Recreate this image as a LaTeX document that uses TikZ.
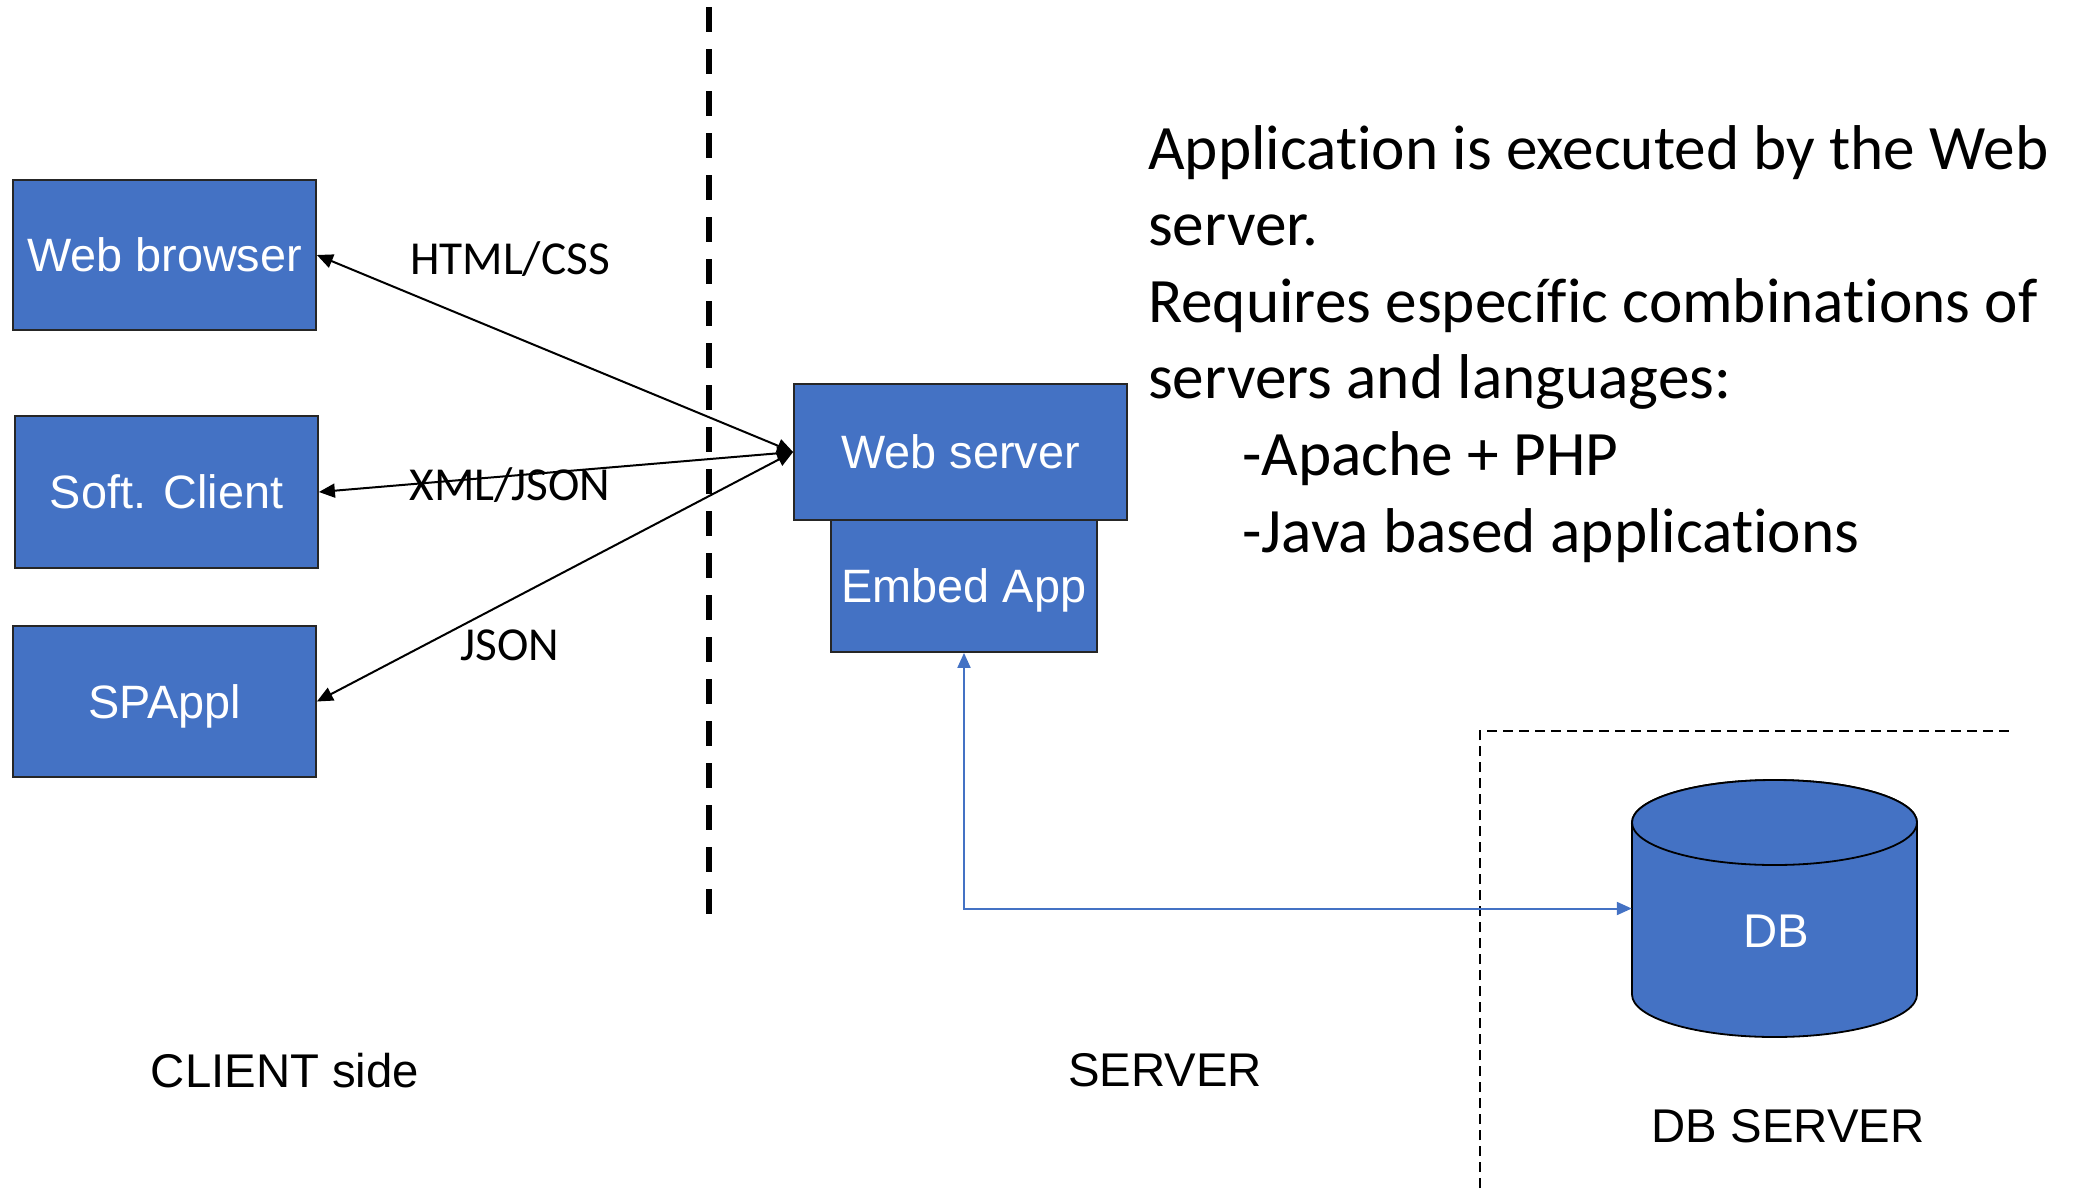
\documentclass[tikz,border=0pt]{standalone}
\usepackage{fontspec}
\setmainfont{Liberation Sans}
\newfontfamily\calibri[Ligatures={NoCommon}]{Carlito}
\usetikzlibrary{arrows.meta}
\definecolor{boxblue}{HTML}{4472C4}
\begin{document}
\begin{tikzpicture}[x=1bp,y=-1bp,
  box/.style={draw=black!85, line width=1.8bp, fill=boxblue, text=white, inner sep=0pt,
    font=\fontsize{47}{56}\selectfont, text depth=0pt},
  lbl/.style={font=\calibri\fontsize{47.5}{57}\selectfont, anchor=base, inner sep=0pt},
  caption/.style={font=\fontsize{47.5}{57}\selectfont, text depth=0pt, inner sep=0pt},
  link/.style={line width=2bp, {Triangle[length=16bp,width=14bp]}-{Triangle[length=16bp,width=14bp]}},
  bluelink/.style={line width=2bp, draw=boxblue, {Triangle[length=15bp,width=13bp]}-{Triangle[length=15bp,width=13bp]}},
  divider/.style={line width=5.5bp, dash pattern=on 25bp off 17bp},
  zone/.style={line width=1.8bp, dash pattern=on 10bp off 6bp}
]
\useasboundingbox (0,0) rectangle (2085,1188);

% vertical divider
\draw[divider] (709,7) -- (709,914);

% client boxes
\node[box, minimum width=303bp, minimum height=150bp] (wb) at (164.5,255) {Web browser};
\node[box, minimum width=303bp, minimum height=152bp] (sc) at (166.5,492) {Soft. Client};
\node[box, minimum width=303bp, minimum height=151bp] (sp) at (164.5,701.5) {SPAppl};

% server boxes
\node[box, minimum width=333bp, minimum height=136bp] (ws) at (960.5,452) {Web server};
\node[box, minimum width=266bp, minimum height=132bp] (ea) at (964,586) {Embed App};

% connectors
\draw[link] (wb.east) -- (ws.west);
\draw[link] (sc.east) -- (ws.west);
\draw[link] (sp.east) -- (ws.west);

% connector labels
\node[lbl] (l1) at (510,274) {HTML/CSS};
\node[lbl] (l2) at (510,500) {XML/JSON};
\node[lbl] (l3) at (510,660) {JSON};

% DB server zone
\draw[zone] (1480,1188) -- (1480,731) -- (2014,731);

% DB cylinder
\node[minimum width=285bp, minimum height=257bp, inner sep=0pt] (db) at (1774.5,908.5) {};
\filldraw[fill=boxblue, draw=black, line width=1.8bp]
  (1632,822.5) -- (1632,994.5)
  arc[start angle=180, end angle=360, x radius=142.5bp, y radius=42.5bp]
  -- (1917,822.5)
  arc[start angle=0, end angle=180, x radius=142.5bp, y radius=42.5bp] -- cycle;
\draw[fill=boxblue, draw=black, line width=1.8bp] (1774.5,822.5) ellipse[x radius=142.5bp, y radius=42.5bp];
\node[caption, text=white] (dbl) at (1776,931.5) {DB};

\draw[bluelink] (ea.south) |- (db.west);

% captions
\node[caption] (client) at (285,1070) {CLIENT side};
\node[caption] (server) at (1165,1070) {SERVER};
\node[caption] (dbserver) at (1788,1126) {DB SERVER};

% description (anchored at the baseline of its last line)
\node[font=\calibri\fontsize{63.5}{76.8}\selectfont, align=left, anchor=base west, inner sep=0pt] (desc) at (1148,552)
  {Application is executed by the Web\\
   server.\\
   Requires específic combinations of\\
   servers and languages:\\
   \hspace*{94bp}-Apache + PHP\\
   \hspace*{94bp}-Java based applications};
\end{tikzpicture}
\end{document}
